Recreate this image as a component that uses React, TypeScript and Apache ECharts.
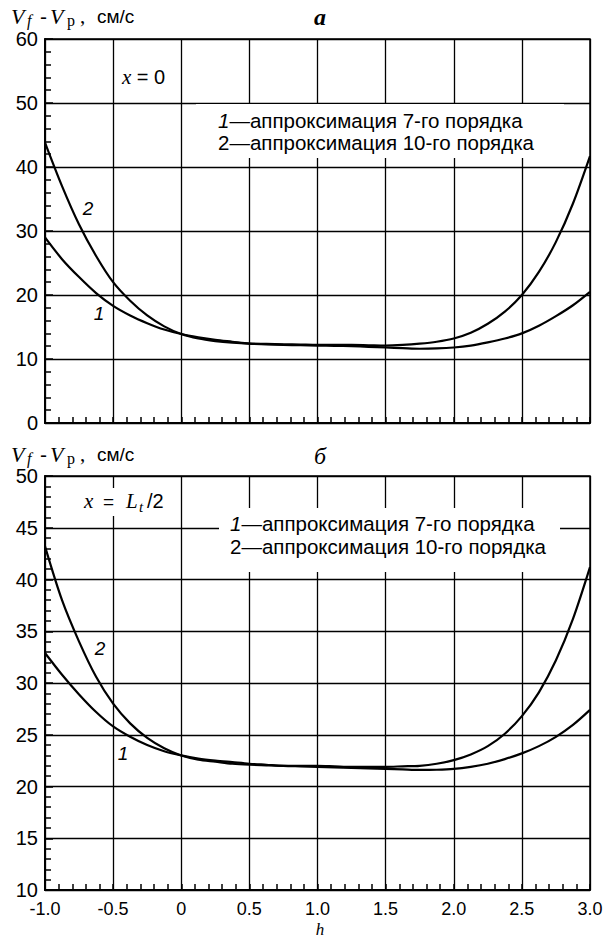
import React, { useEffect, useRef } from "react";
import * as echarts from "echarts";

const hValues = [
  -1, -0.875, -0.75, -0.625, -0.5, -0.375, -0.25, -0.125, 0, 0.125, 0.25, 0.375, 0.5, 0.625, 0.75, 0.875, 1.0,
  1.125, 1.25, 1.375, 1.5, 1.625, 1.75, 1.875, 2.0, 2.125, 2.25, 2.375, 2.5, 2.625, 2.75, 2.875, 3.0,
];
// panel a (x = 0): 1 — 7th order, 2 — 10th order
const a1 = [
  29.0, 25.6, 22.8, 20.3, 18.3, 16.8, 15.6, 14.6, 13.9, 13.4, 13.0, 12.7, 12.4, 12.3, 12.2, 12.15, 12.1,
  12.05, 12.0, 11.9, 11.8, 11.7, 11.6, 11.65, 11.8, 12.1, 12.6, 13.2, 14.0, 15.2, 16.7, 18.4, 20.5,
];
const a2 = [
  43.8, 37.0, 31.0, 26.1, 22.0, 19.1, 16.8, 15.1, 13.9, 13.2, 12.8, 12.55, 12.4, 12.35, 12.3, 12.25, 12.2,
  12.2, 12.2, 12.15, 12.1, 12.2, 12.4, 12.7, 13.2, 14.1, 15.5, 17.4, 20.0, 23.6, 28.3, 34.3, 41.7,
];
// panel б (x = Lt/2)
const b1 = [
  32.9, 30.8, 28.9, 27.2, 25.8, 24.8, 24.0, 23.4, 23.0, 22.7, 22.5, 22.35, 22.2, 22.1, 22.0, 21.95, 21.9,
  21.85, 21.8, 21.75, 21.7, 21.65, 21.6, 21.62, 21.7, 21.9, 22.2, 22.65, 23.2, 23.9, 24.8, 25.95, 27.4,
];
const b2 = [
  43.2, 38.0, 34.0, 30.6, 28.0, 26.1, 24.7, 23.7, 23.0, 22.6, 22.4, 22.2, 22.1, 22.05, 22.0, 22.0, 22.0,
  21.95, 21.9, 21.9, 21.9, 21.95, 22.0, 22.2, 22.55, 23.1, 23.9, 25.1, 26.8, 29.1, 32.2, 36.2, 41.2,
];

const xTickLabels = ["-1.0", "-0.5", "0", "0.5", "1.0", "1.5", "2.0", "2.5", "3.0"];
const legendLines = ["аппроксимация 7-го порядка", "аппроксимация 10-го порядка"];

const SANS = "'Liberation Sans', Arial, sans-serif";
const SERIF = "'Liberation Serif', 'Times New Roman', serif";

const pairs = (ys: number[]) => hValues.map((h, i) => [h, ys[i]]);

export default function App() {
  const ref = useRef<HTMLDivElement>(null);
  useEffect(() => {
    document.body.style.margin = "0";
    const chart = echarts.init(ref.current!, undefined, { renderer: "svg" });
    const xAxisBase = (gridIndex: number, showLabel: boolean) => ({
      type: "value",
      gridIndex,
      min: -1,
      max: 3,
      interval: 0.5,
      axisLine: { show: true, onZero: false, lineStyle: { color: "#000", width: 2 } },
      axisTick: { show: true, inside: true, length: 6, lineStyle: { color: "#000", width: 1.5 } },
      minorTick: { show: true, splitNumber: 5, length: 6, lineStyle: { color: "#000", width: 1.5 } },
      splitLine: { show: true, lineStyle: { color: "#000", width: 1.3 } },
      axisLabel: {
        show: showLabel,
        color: "#000",
        fontFamily: SANS,
        fontSize: 18,
        lineHeight: 18,
        margin: 10,
        formatter: (v: number) => {
          const idx = Math.round((v + 1) / 0.5);
          return xTickLabels[idx] ?? "";
        },
      },
    });
    const yAxisBase = (gridIndex: number, min: number, max: number, interval: number) => ({
      type: "value",
      gridIndex,
      min,
      max,
      interval,
      axisLine: { show: true, onZero: false, lineStyle: { color: "#000", width: 2 } },
      axisTick: { show: true, inside: true, length: 8, lineStyle: { color: "#000", width: 1.5 } },
      minorTick: { show: true, splitNumber: 5, length: 6, lineStyle: { color: "#000", width: 1.5 } },
      splitLine: { show: true, lineStyle: { color: "#000", width: 1.3 } },
      axisLabel: { color: "#000", fontFamily: SANS, fontSize: 20, lineHeight: 20, margin: 7 },
    });
    const lineSeries = (data: number[][], xi: number) => ({
      type: "line",
      xAxisIndex: xi,
      yAxisIndex: xi,
      data,
      smooth: 0.3,
      showSymbol: false,
      lineStyle: { color: "#000", width: 2.2 },
      z: 5,
    });
    const txt = (x: number, y: number, text: string, font: any, extra: any = {}) => ({
      type: "text",
      x,
      y,
      z: 101,
      style: { text, fill: "#000", textVerticalAlign: "middle", ...font, ...extra },
    });
    const rect = (x: number, y: number, w: number, h: number) => ({
      type: "rect",
      z: 100,
      shape: { x, y, width: w, height: h },
      style: { fill: "#fff" },
    });
    const titleGroup = (y: number) => [
      txt(11, y, "V", { fontFamily: SERIF, fontStyle: "italic", fontSize: 22 }),
      txt(27, y + 4, "f", { fontFamily: SERIF, fontStyle: "italic", fontSize: 16 }),
      txt(40, y, "-", { fontFamily: SANS, fontSize: 21 }),
      txt(50, y, "V", { fontFamily: SERIF, fontStyle: "italic", fontSize: 22 }),
      txt(67, y + 4, "p", { fontFamily: SERIF, fontSize: 16 }),
      txt(80, y, ",", { fontFamily: SERIF, fontSize: 21 }),
      txt(97, y, "см/с", { fontFamily: SANS, fontSize: 19 }),
    ];
    const legendTexts = (x: number, y1: number, y2: number) => [
      {
        type: "text",
        x,
        y: y1,
        z: 101,
        style: {
          text: "{i|1}—" + legendLines[0],
          fill: "#000",
          textVerticalAlign: "middle",
          fontFamily: SANS,
          fontSize: 20.5,
          rich: { i: { fontFamily: SANS, fontStyle: "italic", fontSize: 20.5 } },
        },
      },
      txt(x, y2, "2—" + legendLines[1], { fontFamily: SANS, fontSize: 20.5 }),
    ];
    chart.setOption({
      animation: false,
      backgroundColor: "#fff",
      grid: [
        { left: 45, right: 19, top: 39, height: 384, show: true, borderColor: "#000", borderWidth: 1.5, backgroundColor: "transparent" },
        { left: 45, right: 19, top: 476, height: 414, show: true, borderColor: "#000", borderWidth: 1.5, backgroundColor: "transparent" },
      ],
      xAxis: [xAxisBase(0, false), xAxisBase(1, true)],
      yAxis: [yAxisBase(0, 0, 60, 10), yAxisBase(1, 10, 50, 5)],
      series: [
        lineSeries(pairs(a1), 0),
        lineSeries(pairs(a2), 0),
        lineSeries(pairs(b1), 1),
        lineSeries(pairs(b2), 1),
      ],
      graphic: [
        ...titleGroup(16),
        txt(320, 17, "a", { fontFamily: SERIF, fontStyle: "italic", fontWeight: "bold", fontSize: 24, textAlign: "center" }),
        ...titleGroup(454),
        txt(320, 456, "б", { fontFamily: SERIF, fontStyle: "italic", fontSize: 24, textAlign: "center" }),
        // panel a annotations
        {
          type: "text",
          x: 122,
          y: 77,
          z: 101,
          style: {
            text: "{i|x} = 0",
            fill: "#000",
            textVerticalAlign: "middle",
            fontFamily: SANS,
            fontSize: 20,
            rich: { i: { fontFamily: SERIF, fontStyle: "italic", fontSize: 21 } },
          },
        },
        rect(196, 104, 368, 54),
        ...legendTexts(218, 120, 142),
        txt(88, 208, "2", { fontFamily: SANS, fontStyle: "italic", fontSize: 19, textAlign: "center" }),
        txt(99, 313, "1", { fontFamily: SANS, fontStyle: "italic", fontSize: 19, textAlign: "center" }),
        // panel б annotations
        rect(80, 488, 98, 28),
        txt(84, 501, "x", { fontFamily: SERIF, fontStyle: "italic", fontSize: 21 }),
        txt(103, 501, "=", { fontFamily: SANS, fontSize: 19 }),
        txt(126, 501, "L", { fontFamily: SERIF, fontStyle: "italic", fontSize: 21 }),
        txt(139, 507, "t", { fontFamily: SERIF, fontStyle: "italic", fontSize: 15 }),
        txt(147, 501, "/2", { fontFamily: SANS, fontSize: 20 }),
        rect(219, 508, 341, 64),
        ...legendTexts(230, 523, 546),
        txt(100, 648, "2", { fontFamily: SANS, fontStyle: "italic", fontSize: 19, textAlign: "center" }),
        txt(123, 753, "1", { fontFamily: SANS, fontStyle: "italic", fontSize: 19, textAlign: "center" }),
        // x axis name
        txt(320, 929.5, "h", { fontFamily: SERIF, fontStyle: "italic", fontSize: 17, textAlign: "center", lineHeight: 17 }),
      ],
    });
    return () => chart.dispose();
  }, []);
  return <div ref={ref} style={{ width: 609, height: 938 }} />;
}
